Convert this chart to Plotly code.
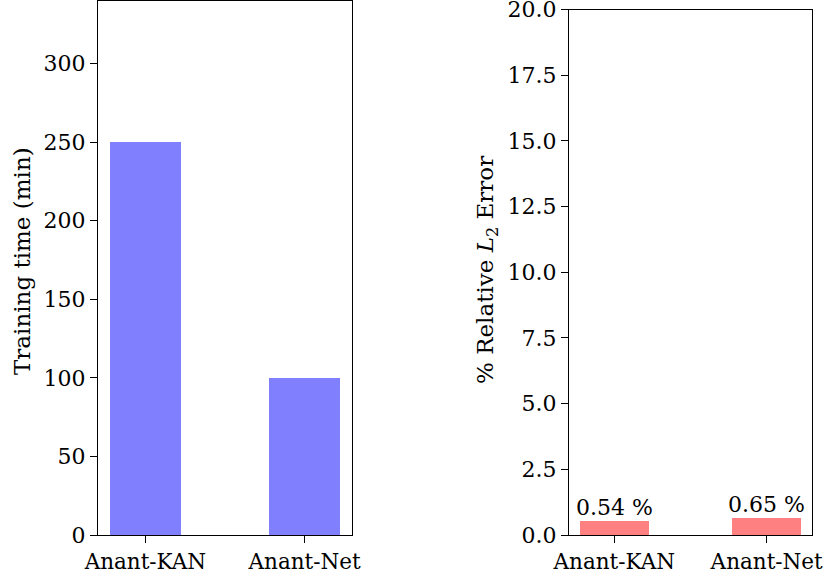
import plotly.graph_objects as go

models = ["Anant-KAN", "Anant-Net"]
training_time_min = [250, 100]
rel_l2_error_pct = [0.54, 0.65]
time_ticks = [0, 50, 100, 150, 200, 250, 300]
error_ticks = [0.0, 2.5, 5.0, 7.5, 10.0, 12.5, 15.0, 17.5, 20.0]

FONT = "DejaVu Serif"
FS_Y = 22
FS_X = 21.5
FS_LABEL = 23
FS_BAR = 22
W, H = 824, 579

fig = go.Figure()

fig.add_trace(go.Bar(
    x=[0, 1], y=training_time_min, width=0.45,
    marker=dict(color="#8080ff", line=dict(width=0)),
    xaxis="x", yaxis="y", showlegend=False,
))
fig.add_trace(go.Bar(
    x=[0, 1], y=rel_l2_error_pct, width=0.45,
    marker=dict(color="#ff8080", line=dict(width=0)),
    xaxis="x2", yaxis="y2", showlegend=False,
))

axis_common = dict(
    showline=True, linecolor="black", linewidth=1.3, mirror=True,
    ticks="outside", ticklen=7, tickwidth=1.3, tickcolor="black",
    showgrid=False, zeroline=False, automargin=False,
    ticklabeloverflow="allow",
)
yfont = dict(family=FONT, size=FS_Y, color="black")
xfont = dict(family=FONT, size=FS_X, color="black")

# value labels sitting on top of the error bars
bar_labels = [
    dict(text=f"{v} %", x=i, y=v, xref="x2", yref="y2", showarrow=False,
         xanchor="center", yanchor="bottom", yshift=-1,
         font=dict(family=FONT, size=FS_BAR, color="black"))
    for i, v in enumerate(rel_l2_error_pct)
]

fig.update_layout(
    width=W, height=H,
    margin=dict(l=0, r=0, t=0, b=0),
    paper_bgcolor="white", plot_bgcolor="white",
    bargap=0,
    xaxis=dict(domain=[98 / W, 352 / W], range=[-0.2975, 1.2975],
               tickvals=[0, 1], ticktext=models, anchor="y",
               tickfont=xfont, **axis_common),
    yaxis=dict(domain=[(H - 535) / H, (H - 0.7) / H], range=[0, 340],
               tickvals=time_ticks, anchor="x", tickfont=yfont, **axis_common),
    xaxis2=dict(domain=[569 / W, 812 / W], range=[-0.2975, 1.2975],
                tickvals=[0, 1], ticktext=models, anchor="y2",
                tickfont=xfont, **axis_common),
    yaxis2=dict(domain=[(H - 535) / H, (H - 9.5) / H], range=[0, 20.0001],
                tickvals=error_ticks, tickformat=".1f", anchor="x2",
                tickfont=yfont, **axis_common),
    annotations=[
        dict(text="Training time (min)", x=22 / W, y=(H - 261) / H,
             xref="paper", yref="paper", textangle=-90, showarrow=False,
             xanchor="center", yanchor="middle",
             font=dict(family=FONT, size=FS_LABEL, color="black")),
        dict(text="% Relative <i>L</i><sub>2</sub> Error", x=487 / W, y=(H - 270) / H,
             xref="paper", yref="paper", textangle=-90, showarrow=False,
             xanchor="center", yanchor="middle",
             font=dict(family=FONT, size=FS_LABEL, color="black")),
    ] + bar_labels,
)

fig.write_html("out.html")
